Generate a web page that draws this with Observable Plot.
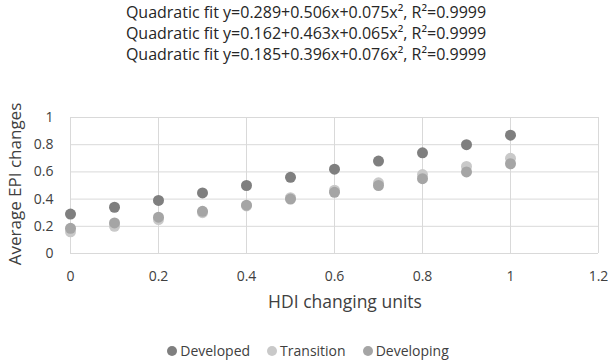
<!DOCTYPE html>
<html><head><meta charset="utf-8">
<script src="https://cdn.jsdelivr.net/npm/d3@7"></script>
<script src="https://cdn.jsdelivr.net/npm/@observablehq/plot@0.6"></script>
<style>
body{margin:0;background:#fff;font-family:"Open Sans",sans-serif;}
#wrap{position:relative;width:608px;height:363px;overflow:hidden;}
#titles{position:absolute;left:0;width:612px;top:2px;text-align:center;font-size:16px;line-height:21px;color:#262626;}
#ylab{position:absolute;left:14px;top:184px;transform:translate(-50%,-50%) rotate(-90deg);font-size:17px;color:#404040;white-space:nowrap;}
#xlab{position:absolute;left:345px;top:301px;transform:translate(-50%,-50%);font-size:17.5px;color:#404040;white-space:nowrap;}
#legend{position:absolute;left:0;width:616px;top:341px;display:flex;justify-content:center;gap:17px;font-size:14px;color:#404040;}
#legend span{display:flex;align-items:center;}
#legend i{display:inline-block;width:10px;height:10px;border-radius:50%;margin-right:3px;}
#chart{position:absolute;left:0;top:0;}
</style></head>
<body>
<div id="wrap">
<div id="chart"></div>
<div id="titles"></div>
<div id="ylab">Average EPI changes</div>
<div id="xlab">HDI changing units</div>
<div id="legend"></div>
</div>
<script>
const xValues = [0, 0.1, 0.2, 0.3, 0.4, 0.5, 0.6, 0.7, 0.8, 0.9, 1.0];
const developed = [0.29, 0.34, 0.39, 0.445, 0.50, 0.56, 0.62, 0.68, 0.74, 0.80, 0.87];
const transition = [0.16, 0.20, 0.25, 0.30, 0.35, 0.41, 0.465, 0.52, 0.58, 0.64, 0.70];
const developing = [0.185, 0.225, 0.267, 0.31, 0.355, 0.40, 0.45, 0.50, 0.55, 0.60, 0.66];
const seriesNames = ["Developed", "Transition", "Developing"];
const seriesColors = ["#7f7f7f", "#c9c9c9", "#a5a5a5"];
const titleLines = [
  "Quadratic fit y=0.289+0.506x+0.075x², R²=0.9999",
  "Quadratic fit y=0.162+0.463x+0.065x², R²=0.9999",
  "Quadratic fit y=0.185+0.396x+0.076x², R²=0.9999"
];
const xTicks = [0, 0.2, 0.4, 0.6, 0.8, 1, 1.2];
const yTicks = [0, 0.2, 0.4, 0.6, 0.8, 1];

const allSeries = [developed, transition, developing];
const data = [];
allSeries.forEach((vals, si) => vals.forEach((v, i) => data.push({x: xValues[i], y: v, s: seriesNames[si]})));

document.getElementById("titles").innerHTML = titleLines.map(t => `<div>${t}</div>`).join("");
document.getElementById("legend").innerHTML = seriesNames.map((n, i) => `<span><i style="background:${seriesColors[i]}"></i>${n}</span>`).join("");

const chart = Plot.plot({
  width: 608, height: 363,
  marginTop: 117, marginBottom: 110, marginLeft: 70, marginRight: 10,
  style: {fontFamily: "Open Sans, sans-serif", fontSize: "14px", color: "#404040"},
  x: {domain: [0, 1.2], ticks: xTicks},
  y: {domain: [0, 1], ticks: yTicks},
  color: {domain: seriesNames, range: seriesColors},
  marks: [
    Plot.gridX(xTicks, {stroke: "#d9d9d9", strokeOpacity: 1, strokeWidth: 1}),
    Plot.gridY(yTicks, {stroke: "#d9d9d9", strokeOpacity: 1, strokeWidth: 1}),
    Plot.axisX(xTicks, {tickSize: 0, tickPadding: 18, label: null, fontSize: 14, tickFormat: d => String(d)}),
    Plot.axisY(yTicks, {tickSize: 0, tickPadding: 17, label: null, fontSize: 14, tickFormat: d => String(d)}),
    Plot.dot(data, {x: "x", y: "y", fill: "s", r: 5.5, stroke: "none"})
  ]
});
document.getElementById("chart").appendChild(chart);
</script>
</body></html>
